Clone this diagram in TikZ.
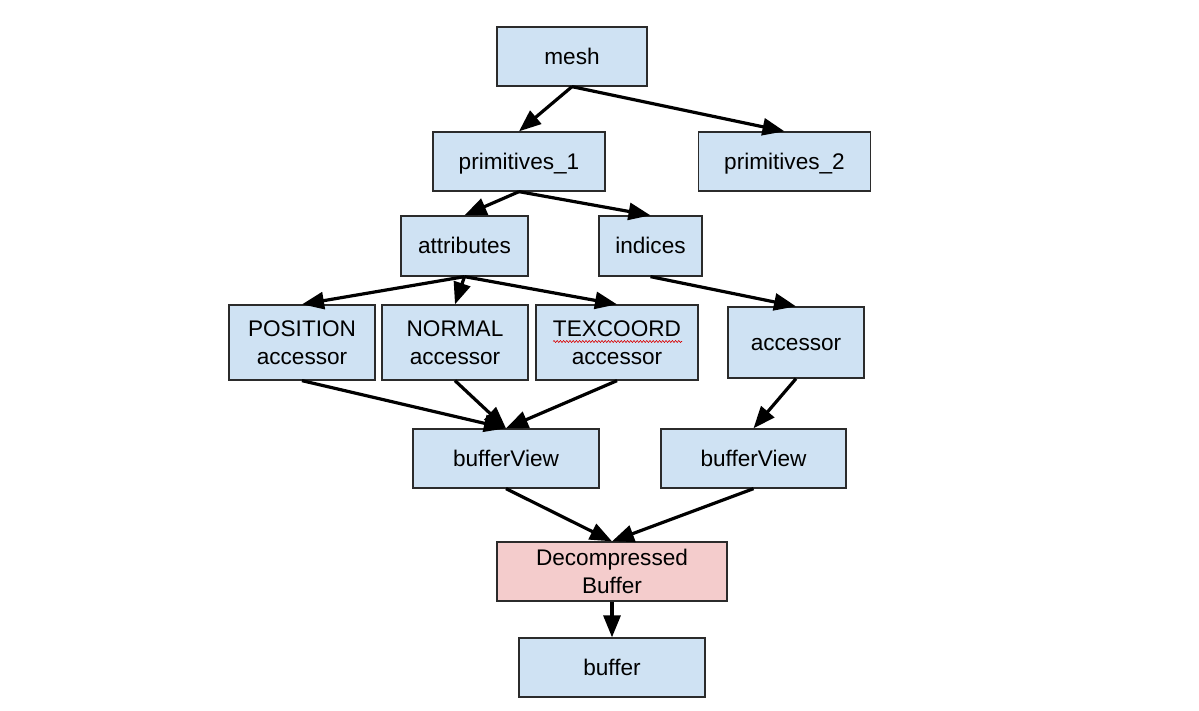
\documentclass[tikz,border=0pt]{standalone}
\usepackage{fontspec}
\setmainfont{Liberation Sans}
\usetikzlibrary{arrows.meta,decorations.pathmorphing}
\definecolor{boxblue}{HTML}{CFE2F3}
\definecolor{boxred}{HTML}{F4CCCC}
\definecolor{boxline}{HTML}{2B2B2B}
\tikzset{
  box/.style={draw=boxline, line width=1.3pt, fill=boxblue, inner sep=0pt,
    align=center, font=\fontsize{22.6}{28}\selectfont},
  one/.style={text height=20.5pt, text depth=4.8pt},
  redbox/.style={box, fill=boxred},
  conn/.style={line width=3.2pt, -{Triangle[length=22pt,width=17pt]}},
  spell/.style={draw=red!85!black, line width=0.6pt, decorate,
    decoration={snake, amplitude=1pt, segment length=3.2pt}}
}
\begin{document}
\begin{tikzpicture}[x=1pt,y=-1pt]
\useasboundingbox (0,0) rectangle (1199,711);
\fill[white] (0,0) rectangle (1199,711);

\node[box, one, minimum width=150pt, minimum height=59pt] (mesh) at (572,56.5) {mesh};
\node[box, one, minimum width=172pt, minimum height=59pt] (p1) at (519,161.5) {primitives\_1};
\node[box, one, minimum width=172pt, minimum height=59pt] (p2) at (784.5,161.5) {primitives\_2};
\node[box, one, minimum width=127pt, minimum height=60pt] (attr) at (464.5,246) {attributes};
\node[box, one, minimum width=103pt, minimum height=60pt] (ind) at (650.5,246) {indices};
\node[box, minimum width=146pt, minimum height=75pt] (pos) at (302,342.5) {POSITION\\accessor};
\node[box, minimum width=146pt, minimum height=75pt] (nor) at (455,342.5) {NORMAL\\accessor};
\node[box, minimum width=162pt, minimum height=75pt] (tex) at (617,342.5) {TEXCOORD\\accessor};
\node[box, one, minimum width=136pt, minimum height=71pt] (acc) at (796,342.5) {accessor};
\node[box, one, minimum width=186pt, minimum height=59pt] (bv1) at (506,458.5) {bufferView};
\node[box, one, minimum width=185pt, minimum height=59pt] (bv2) at (753.5,458.5) {bufferView};
\node[redbox, minimum width=230pt, minimum height=59pt] (dec) at (612,571.5) {Decompressed\\Buffer};
\node[box, one, minimum width=186pt, minimum height=59pt] (buf) at (612,667.5) {buffer};

\path[spell] (tex.center) ++(-64,-1) -- ++(129,0);

\draw[conn] (mesh.south) -- (p1.north);
\draw[conn] (mesh.south) -- (p2.north);
\draw[conn] (p1.south) -- (attr.north);
\draw[conn] (p1.south) -- (ind.north);
\draw[conn] (attr.south) -- (pos.north);
\draw[conn] (attr.south) -- (nor.north);
\draw[conn] (attr.south) -- (tex.north);
\draw[conn] (ind.south) -- (acc.north);
\draw[conn] (pos.south) -- (bv1.north);
\draw[conn] (nor.south) -- (bv1.north);
\draw[conn] (tex.south) -- (bv1.north);
\draw[conn] (acc.south) -- (bv2.north);
\draw[conn] (bv1.south) -- (dec.north);
\draw[conn] (bv2.south) -- (dec.north);
\draw[conn] (dec.south) -- (buf.north);
\end{tikzpicture}
\end{document}
